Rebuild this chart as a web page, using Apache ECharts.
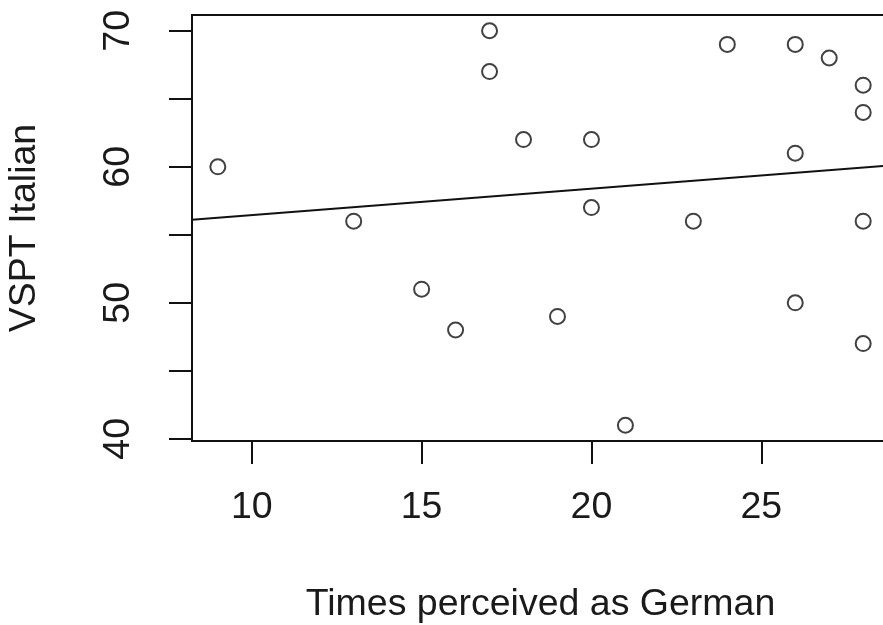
<!DOCTYPE html>
<html>
<head>
<meta charset="utf-8">
<title>VSPT Italian vs Times perceived as German</title>
<script src="https://cdn.jsdelivr.net/npm/echarts@6/dist/echarts.min.js"></script>
<style>
    html, body { margin: 0; padding: 0; background: #fff; }
    #chart { width: 883px; height: 625px; }
</style>
</head>
<body>
<div id="chart"></div>
<script>
// data
const timesGerman = [9, 13, 15, 16, 17, 17, 18, 19, 20, 20, 21, 23, 24, 26, 26, 26, 27, 28, 28, 28, 28];
const vsptItalian = [60, 56, 51, 48, 70, 67, 62, 49, 62, 57, 41, 56, 69, 69, 61, 50, 68, 66, 64, 56, 47];
// fitted line, end points read at the plot edges
const fitX = [8.24, 28.76];
const fitY = [56.1, 60.1];

const xTicks = [10, 15, 20, 25];
const yTicks = [40, 45, 50, 55, 60, 65, 70];
const yLabels = [40, 50, 60, 70];

const chart = echarts.init(document.getElementById('chart'));

const fontStyle = {
    fontFamily: 'Liberation Sans, Arial, sans-serif',
    fontSize: 37.5,
    color: '#1a1a1a'
};

const option = {
    backgroundColor: '#fff',
    animation: false,
    grid: {
        left: 192,
        top: 15,
        right: -6, // the box runs a little past the right edge
        bottom: 184,
        outerBoundsMode: 'none',
        containLabel: false,
        show: true,
        borderColor: '#111',
        borderWidth: 2,
        backgroundColor: 'transparent'
    },
    xAxis: {
        type: 'value',
        min: 8.24,
        max: 28.76,
        name: 'Times perceived as German',
        nameLocation: 'middle',
        nameGap: 145,
        nameTextStyle: fontStyle,
        axisLine: { show: true, lineStyle: { color: '#111', width: 2 } },
        axisTick: {
            show: true,
            customValues: xTicks,
            length: 23,
            lineStyle: { color: '#111', width: 2 }
        },
        axisLabel: {
            customValues: xTicks,
            margin: 48,
            ...fontStyle
        },
        splitLine: { show: false }
    },
    yAxis: {
        type: 'value',
        min: 39.84,
        max: 71.16,
        name: 'VSPT Italian',
        nameLocation: 'middle',
        nameRotate: 90,
        nameGap: 148,
        nameTextStyle: fontStyle,
        axisLine: { show: true, lineStyle: { color: '#111', width: 2 } },
        axisTick: {
            show: true,
            customValues: yTicks,
            length: 23,
            lineStyle: { color: '#111', width: 2 }
        },
        axisLabel: {
            customValues: yLabels,
            rotate: 90,
            margin: 54,
            ...fontStyle
        },
        splitLine: { show: false }
    },
    series: [
        {
            type: 'scatter',
            symbol: 'circle',
            symbolSize: 15,
            itemStyle: {
                color: 'rgba(0,0,0,0)',
                borderColor: '#111',
                borderWidth: 2
            },
            data: timesGerman.map((x, i) => [x, vsptItalian[i]])
        },
        {
            type: 'line',
            symbol: 'none',
            silent: true,
            lineStyle: { color: '#111', width: 2 },
            data: fitX.map((x, i) => [x, fitY[i]])
        }
    ]
};

chart.setOption(option);
</script>
</body>
</html>
